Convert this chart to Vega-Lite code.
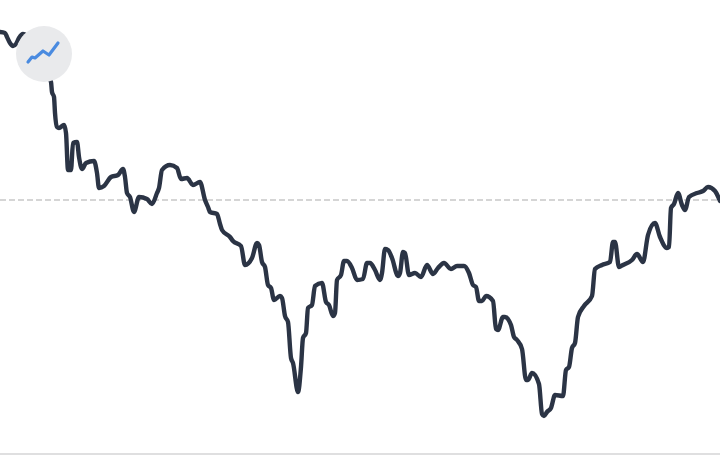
{"$schema":"https://vega.github.io/schema/vega-lite/v6.json","width":720,"height":461,"padding":0,"autosize":{"type":"fit","contains":"padding"},"background":"#ffffff","view":{"stroke":null},
"datasets":{"series":[
{"x":0,"y":32},{"x":5,"y":33},{"x":7,"y":37},{"x":10,"y":43},{"x":13,"y":46},{"x":16,"y":44},{"x":19,"y":38},{"x":23,"y":34},{"x":30,"y":40},{"x":38,"y":60},{"x":45,"y":70},{"x":51,"y":82},{"x":52,"y":92},{"x":54,"y":97},{"x":55,"y":113},{"x":57,"y":127},{"x":59,"y":128},{"x":64,"y":125},{"x":66,"y":133},{"x":68,"y":170},{"x":71,"y":170},{"x":73,"y":143},{"x":77,"y":142},{"x":79,"y":157},{"x":82,"y":169},{"x":86,"y":163},{"x":94,"y":161},{"x":97,"y":173},{"x":99,"y":188},{"x":104,"y":186},{"x":111,"y":177},{"x":118,"y":175},{"x":123,"y":169},{"x":125,"y":177},{"x":127,"y":193},{"x":130,"y":197},{"x":134,"y":212},{"x":139,"y":197},{"x":147,"y":199},{"x":152,"y":204},{"x":157,"y":193},{"x":159,"y":188},{"x":162,"y":170},{"x":170,"y":165},{"x":177,"y":168},{"x":181,"y":179},{"x":187,"y":178},{"x":193,"y":185},{"x":200,"y":182},{"x":205,"y":200},{"x":208,"y":207},{"x":210,"y":212},{"x":217,"y":214},{"x":220,"y":224},{"x":222,"y":230},{"x":230,"y":237},{"x":233,"y":241},{"x":241,"y":246},{"x":245,"y":265},{"x":252,"y":258},{"x":257,"y":243},{"x":259,"y":245},{"x":262,"y":262},{"x":265,"y":267},{"x":268,"y":285},{"x":271,"y":288},{"x":274,"y":300},{"x":280,"y":296},{"x":282,"y":298},{"x":285,"y":316},{"x":288,"y":322},{"x":291,"y":358},{"x":293,"y":363},{"x":298,"y":392},{"x":301,"y":367},{"x":303,"y":338},{"x":306,"y":333},{"x":308,"y":308},{"x":312,"y":305},{"x":315,"y":286},{"x":322,"y":283},{"x":326,"y":302},{"x":329,"y":305},{"x":333,"y":316},{"x":335,"y":313},{"x":337,"y":280},{"x":341,"y":275},{"x":344,"y":261},{"x":347,"y":261},{"x":352,"y":268},{"x":357,"y":280},{"x":363,"y":279},{"x":367,"y":263},{"x":370,"y":263},{"x":375,"y":270},{"x":380,"y":280},{"x":382,"y":273},{"x":385,"y":249},{"x":388,"y":250},{"x":392,"y":258},{"x":398,"y":276},{"x":400,"y":273},{"x":403,"y":252},{"x":405,"y":253},{"x":409,"y":275},{"x":415,"y":273},{"x":421,"y":277},{"x":427,"y":265},{"x":433,"y":274},{"x":438,"y":268},{"x":444,"y":263},{"x":451,"y":269},{"x":457,"y":266},{"x":464,"y":266},{"x":469,"y":273},{"x":473,"y":285},{"x":476,"y":287},{"x":479,"y":301},{"x":482,"y":301},{"x":486,"y":296},{"x":493,"y":301},{"x":496,"y":329},{"x":498,"y":330},{"x":503,"y":317},{"x":505,"y":317},{"x":511,"y":325},{"x":514,"y":337},{"x":517,"y":340},{"x":522,"y":349},{"x":526,"y":380},{"x":528,"y":380},{"x":532,"y":373},{"x":539,"y":384},{"x":542,"y":414},{"x":544,"y":416},{"x":547,"y":412},{"x":551,"y":408},{"x":555,"y":395},{"x":563,"y":396},{"x":566,"y":370},{"x":569,"y":367},{"x":572,"y":348},{"x":575,"y":343},{"x":578,"y":317},{"x":584,"y":306},{"x":592,"y":296},{"x":595,"y":269},{"x":602,"y":265},{"x":610,"y":262},{"x":613,"y":242},{"x":615,"y":242},{"x":619,"y":267},{"x":623,"y":265},{"x":632,"y":260},{"x":637,"y":254},{"x":643,"y":262},{"x":648,"y":235},{"x":655,"y":223},{"x":660,"y":237},{"x":667,"y":248},{"x":669,"y":247},{"x":671,"y":208},{"x":674,"y":204},{"x":678,"y":193},{"x":682,"y":205},{"x":685,"y":210},{"x":689,"y":197},{"x":697,"y":193},{"x":703,"y":191},{"x":708,"y":187},{"x":715,"y":191},{"x":720,"y":201}],
"icon":[{"x":28,"y":62},{"x":32,"y":57},{"x":35,"y":58},{"x":43,"y":51},{"x":49,"y":55},{"x":58,"y":43}]},
"encoding":{"x":{"field":"x","type":"quantitative","scale":{"domain":[0,720],"nice":false,"zero":false},"axis":null},"y":{"field":"y","type":"quantitative","scale":{"domain":[461,0],"nice":false,"zero":false},"axis":null}},
"layer":[
{"data":{"values":[{"y":200}]},"mark":{"type":"rule","clip":true,"color":"#c8c8c8","strokeWidth":1.5,"strokeDash":[6,3]},"encoding":{"x":{"value":0},"x2":{"value":720}}},
{"data":{"values":[{"y":454}]},"mark":{"type":"rule","clip":true,"color":"#d4d4d6","strokeWidth":1.5},"encoding":{"x":{"value":0},"x2":{"value":720}}},
{"data":{"name":"series"},"mark":{"type":"line","clip":true,"color":"#2b3445","strokeWidth":4.4,"interpolate":"monotone","strokeJoin":"round","strokeCap":"round"}},
{"data":{"values":[{"x":44,"y":54}]},"mark":{"type":"point","filled":true,"shape":"circle","size":3136,"color":"#e9eaec","opacity":1}},
{"data":{"name":"icon"},"mark":{"type":"line","color":"#4a8be0","strokeWidth":3.2,"strokeJoin":"round","strokeCap":"round"}}
]}
